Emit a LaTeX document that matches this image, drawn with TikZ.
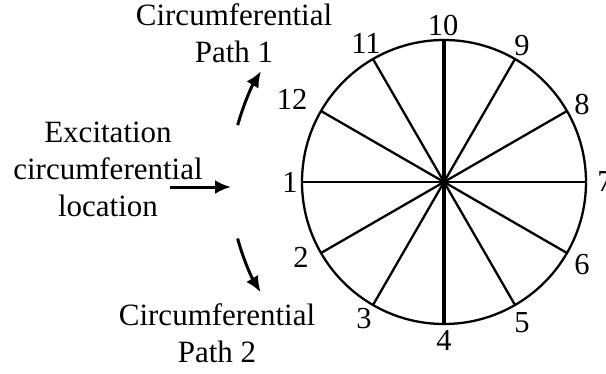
\documentclass[tikz,border=0pt]{standalone}
\usepackage{fontspec}
\setmainfont{Liberation Serif}
\usetikzlibrary{arrows.meta}
\begin{document}
\begin{tikzpicture}[x=1pt,y=-1pt,
  lbl/.style={inner sep=0pt, font=\fontsize{30.5}{37}\selectfont},
  txt/.style={inner sep=0pt, align=center, font=\fontsize{31}{37}\selectfont},
  spoke/.style={line width=2.3pt},
  mainspoke/.style={line width=3.8pt},
  arr/.style={line width=3pt, -{Latex[length=16pt,width=14pt]}}]
\useasboundingbox (0,0) rectangle (606,373);
\coordinate (O) at (444,182);
\foreach \k in {1,...,12}{
  \path (O) ++({180+30*(\k-1)}:142pt) coordinate (p\k);
}
\draw[spoke] (O) circle[radius=142pt];
\draw[spoke] (p1) -- (p7);
\draw[spoke] (p2) -- (p8);
\draw[spoke] (p3) -- (p9);
\draw[mainspoke] (p4) -- (p10);
\draw[spoke] (p5) -- (p11);
\draw[spoke] (p6) -- (p12);
% labels
\node[lbl] (l1) at (290,182) {1};
\node[lbl] (l2) at (301,257) {2};
\node[lbl] (l3) at (364,319) {3};
\node[lbl] (l4) at (444,340) {4};
\node[lbl] (l5) at (522,323) {5};
\node[lbl] (l6) at (582,265) {6};
\node[lbl] (l7) at (605,182) {7};
\node[lbl] (l8) at (582,105) {8};
\node[lbl] (l9) at (522,46) {9};
\node[lbl] (l10) at (443,26) {10};
\node[lbl] (l11) at (366,43) {11};
\node[lbl] (l12) at (292,99) {12};
% text blocks
\node[txt, anchor=north] (exc) at (108,121.8) {Excitation\\circumferential\\location};
\node[txt, anchor=north] (path1) at (234,3.8) {Circumferential\\Path 1};
\node[txt, anchor=north] (path2) at (217,303.8) {Circumferential\\Path 2};
% arrows
\coordinate (h1) at (170,187);
\coordinate (h2) at (231,187);
\draw[arr] (h1) -- (h2);
\path (O) ++(164.6:214pt) coordinate (c1s);
\draw[arr] (c1s) arc[start angle=164.6, end angle=148.8, radius=214pt] coordinate (c1e);
\path (O) ++(195.3:214pt) coordinate (c2s);
\draw[arr] (c2s) arc[start angle=195.3, end angle=211, radius=214pt] coordinate (c2e);
\end{tikzpicture}
\end{document}
